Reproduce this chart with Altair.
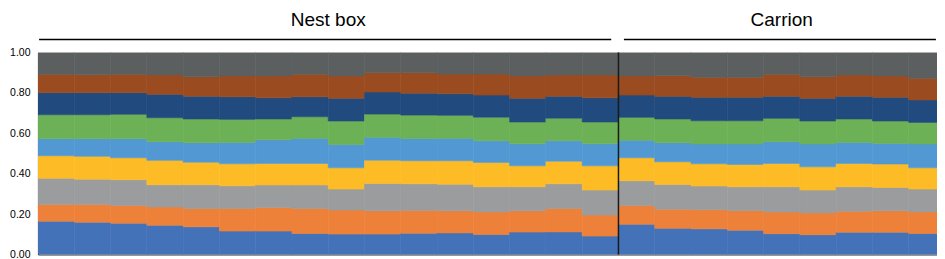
import altair as alt
import pandas as pd

# cumulative top of each layer, per column (16 Nest box + 9 Carrion)
series = ["S1", "S2", "S3", "S4", "S5", "S6", "S7", "S8", "S9"]
colors = ["#4472b9", "#ee8139", "#9b9c9e", "#fdbc26", "#5299d3",
          "#6cb155", "#214a7e", "#9a4c20", "#5b5f60"]

s1_top = [0.165, 0.160, 0.155, 0.145, 0.137, 0.116, 0.116, 0.104, 0.101, 0.101, 0.105, 0.107, 0.099,
          0.111, 0.112, 0.091, 0.150, 0.130, 0.127, 0.120, 0.103, 0.098, 0.110, 0.110, 0.104]
s2_top = [0.248, 0.248, 0.243, 0.235, 0.228, 0.228, 0.233, 0.228, 0.220, 0.216, 0.218, 0.216, 0.211,
          0.216, 0.228, 0.195, 0.242, 0.224, 0.222, 0.217, 0.210, 0.206, 0.214, 0.216, 0.211]
s3_top = [0.377, 0.373, 0.370, 0.345, 0.345, 0.340, 0.344, 0.344, 0.324, 0.352, 0.350, 0.348, 0.335,
          0.335, 0.350, 0.319, 0.365, 0.347, 0.339, 0.335, 0.335, 0.319, 0.335, 0.332, 0.324]
s4_top = [0.489, 0.486, 0.479, 0.466, 0.457, 0.449, 0.451, 0.451, 0.429, 0.467, 0.464, 0.464, 0.456,
          0.439, 0.462, 0.439, 0.479, 0.459, 0.449, 0.446, 0.451, 0.434, 0.451, 0.448, 0.429]
s5_top = [0.573, 0.573, 0.573, 0.558, 0.553, 0.555, 0.568, 0.575, 0.545, 0.580, 0.574, 0.575, 0.563,
          0.548, 0.563, 0.548, 0.565, 0.553, 0.547, 0.547, 0.558, 0.547, 0.555, 0.550, 0.547]
s6_top = [0.692, 0.692, 0.694, 0.677, 0.671, 0.669, 0.671, 0.682, 0.661, 0.695, 0.690, 0.689, 0.680,
          0.656, 0.675, 0.656, 0.679, 0.671, 0.662, 0.662, 0.674, 0.661, 0.671, 0.661, 0.654]
s7_top = [0.801, 0.801, 0.801, 0.793, 0.784, 0.781, 0.776, 0.781, 0.773, 0.804, 0.798, 0.796, 0.789,
          0.773, 0.784, 0.776, 0.789, 0.783, 0.778, 0.778, 0.784, 0.773, 0.784, 0.778, 0.765]
s8_top = [0.892, 0.890, 0.892, 0.889, 0.880, 0.884, 0.884, 0.892, 0.884, 0.900, 0.900, 0.893, 0.893,
          0.884, 0.889, 0.889, 0.884, 0.885, 0.877, 0.877, 0.892, 0.880, 0.889, 0.884, 0.872]
s9_top = [1.0] * 25

groups = ["Nest box", "Carrion"]
group_start = [0, 16]
group_end = [16, 25]
y_ticks = [0.0, 0.1, 0.2, 0.3, 0.4, 0.5, 0.6, 0.7, 0.8, 0.9, 1.0]

tops = [s1_top, s2_top, s3_top, s4_top, s5_top, s6_top, s7_top, s8_top, s9_top]
rows = []
n = len(s1_top)
for i in range(n):
    prev = 0.0
    for name, t in zip(series, tops):
        rows.append({"c0": i, "c1": i + 1, "series": name, "y0": prev, "y1": t[i]})
        prev = t[i]
df = pd.DataFrame(rows)

W, H = 899, 202
# the reference is cropped just inside the last column
xscale = alt.Scale(domain=[0, 24.78], nice=False, zero=False)
yscale = alt.Scale(domain=[0, 1], nice=False)
cscale = alt.Scale(domain=series, range=colors)

bars = alt.Chart(df).mark_rect(strokeWidth=0.6, clip=True).encode(
    x=alt.X("c0:Q", scale=xscale,
            axis=alt.Axis(labels=False, ticks=False, grid=False, title=None,
                          domainColor="#333333", domainWidth=1.2)),
    x2="c1:Q",
    y=alt.Y("y0:Q", scale=yscale,
            axis=alt.Axis(values=y_ticks, format=".2f", grid=False, ticks=False,
                          title=None, labelPadding=8, labelFont="Liberation Sans",
                          labelFontSize=10.5, labelColor="#000000",
                          domainColor="#333333", domainWidth=1.2)),
    y2="y1:Q",
    color=alt.Color("series:N", scale=cscale, legend=None),
    stroke=alt.Color("series:N", scale=cscale, legend=None),
)

gdf = pd.DataFrame({
    "group": groups,
    "start": group_start,
    "end": group_end,
    "mid": [(a + b) / 2 for a, b in zip(group_start, group_end)],
    "ls": [0.03, 16.15],
    "le": [15.8, 24.75],
})

titles = alt.Chart(gdf).mark_text(font="Liberation Sans", fontSize=19, color="#000000",
                                  baseline="alphabetic").encode(
    x=alt.X("mid:Q", scale=xscale), y=alt.value(-27), text="group:N")

hlines = alt.Chart(gdf).mark_rule(color="#000000", strokeWidth=1.5).encode(
    x=alt.X("ls:Q", scale=xscale), x2="le:Q", y=alt.value(-13))

ddf = pd.DataFrame({"x": [16], "y": [0.0], "y2": [1.0]})
divider = alt.Chart(ddf).mark_rule(color="#1a1a1a", strokeWidth=1.5).encode(
    x=alt.X("x:Q", scale=xscale), y=alt.Y("y:Q", scale=yscale), y2="y2:Q")

chart = alt.layer(bars, divider, titles, hlines).properties(
    width=W, height=H,
    autosize=alt.AutoSizeParams(type="none"),
    padding={"left": 30, "top": 44.5, "right": 0, "bottom": 4},
).configure_view(stroke=None)

chart.save("out.html", embed_options={"renderer": "svg", "actions": False})
